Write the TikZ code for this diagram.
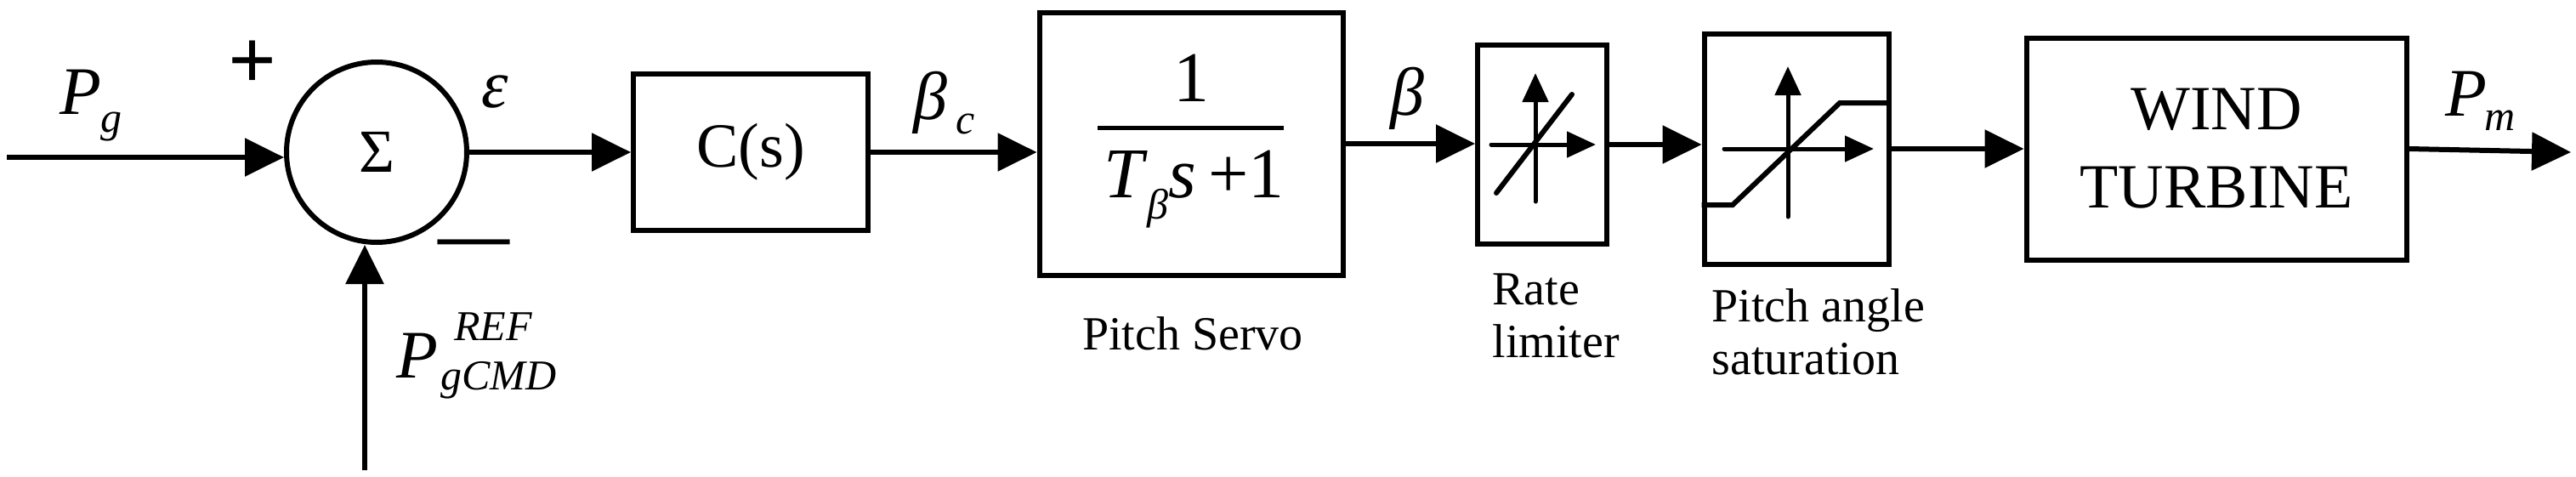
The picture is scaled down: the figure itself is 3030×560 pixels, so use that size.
\documentclass[tikz,border=0pt]{standalone}
\usepackage{fontspec}
\setmainfont{Liberation Serif}
\usetikzlibrary{arrows.meta}
\begin{document}
\begin{tikzpicture}[x=1pt,y=-1pt,
  lw/.style={line width=6pt},
  box/.style={draw,line width=6pt,rectangle,inner sep=0pt},
  arr/.style={line width=6pt,-{Triangle[length=46pt,width=44pt]}},
  sarr/.style={line width=5pt,-{Triangle[length=34pt,width=30pt]}},
  big/.style={font=\fontsize{74}{80}\selectfont\rmfamily},
  lab/.style={font=\fontsize{56}{62}\selectfont\rmfamily,align=left},
  mlab/.style={font=\fontsize{80}{84}\selectfont\itshape},
  sub/.style={font=\fontsize{50}{52}\selectfont\itshape,inner sep=0pt}]
\useasboundingbox (0,0) rectangle (3030,560);
% nodes
\node[draw,circle,line width=6pt,minimum size=212pt,inner sep=0pt,font=\fontsize{72}{74}\selectfont] (sum) at (443,179) {Σ};
\node[box,minimum width=276pt,minimum height=184pt,big] (cs) at (883,179) {C(s)};
\node[box,minimum width=357pt,minimum height=309pt] (servo) at (1401,169) {};
\node[font=\fontsize{84}{86}\selectfont] (num) at (1401,92) {1};
\draw[line width=5pt] (1291,150) -- (1510,150);
\node[font=\fontsize{84}{86}\selectfont,anchor=base west,inner sep=0pt] (den) at (1298,232) {\textit{T}\raisebox{-0.3em}{\fontsize{50}{52}\selectfont\textit{β}}\textit{s}\,+1};
\node[box,minimum width=152pt,minimum height=234pt] (rate) at (1814,170) {};
\node[box,minimum width=217pt,minimum height=271pt] (sat) at (2113,175) {};
\node[box,minimum width=447pt,minimum height=261pt,big,align=center] (wt) at (2607,175) {WIND\\[12pt]TURBINE};
\coordinate (in) at (8,185);
\coordinate (ref) at (429,553);
\coordinate (out) at (3024,179);
% connectors
\draw[arr] (in) -- (in -| sum.west);
\draw[arr] (ref) -- (sum.south -| ref);
\draw[arr] (sum.east) -- (sum.east -| cs.west);
\draw[arr] (cs.east) -- (cs.east -| servo.west);
\draw[arr] (servo.east) -- (servo.east -| rate.west);
\draw[arr] (rate.east) -- (rate.east -| sat.west);
\draw[arr] (sat.east) -- (sat.east -| wt.west);
\draw[arr] (wt.east) -- (out);
% rate limiter symbol
\draw[sarr,line cap=round] (1806,237) -- (1806,86);
\draw[sarr,line cap=round] (1754,170) -- (1877,170);
\draw[lw,line cap=round] (1760,227) -- (1849,111);
% saturation symbol
\draw[sarr,line cap=round] (2103,255) -- (2103,78);
\draw[sarr,line cap=round] (2028,175) -- (2204,175);
\draw[lw] (sat.west |- 0,241) -- (2038,241) -- (2164,121) -- (sat.east |- 0,121);
% labels
\node[mlab,anchor=base west,inner sep=0pt] (pg) at (70,134) {P};
\node[sub,anchor=base west] (pgs) at (118,155) {g};
\node[font=\fontsize{100}{100}\selectfont\bfseries] (plus) at (297,76) {+};
\node[font=\fontsize{84}{90}\selectfont\bfseries] (minus) at (557,293) {—};
\node[mlab] (eps) at (582,108) {ɛ};
\node[mlab,anchor=base west,inner sep=0pt] (pr) at (466,444) {P};
\node[sub,anchor=base west] (prs) at (534,400) {REF};
\node[sub,anchor=base west] (prb) at (518,458) {gCMD};
\node[mlab,anchor=base west,inner sep=0pt] (bc) at (1074,140) {β};
\node[sub,anchor=base west] (bcs) at (1124,157) {c};
\node[mlab] (b) at (1655,116) {β};
\node[mlab,anchor=base west,inner sep=0pt] (pm) at (2876,136) {P};
\node[sub,anchor=base west] (pms) at (2922,153) {m};
\node[lab] (ps) at (1403,392) {Pitch Servo};
\node[lab,anchor=north west] (rl) at (1752,318) {Rate\\limiter};
\node[lab,anchor=north west] (pa) at (2010,336) {Pitch angle\\saturation};
\end{tikzpicture}
\end{document}
